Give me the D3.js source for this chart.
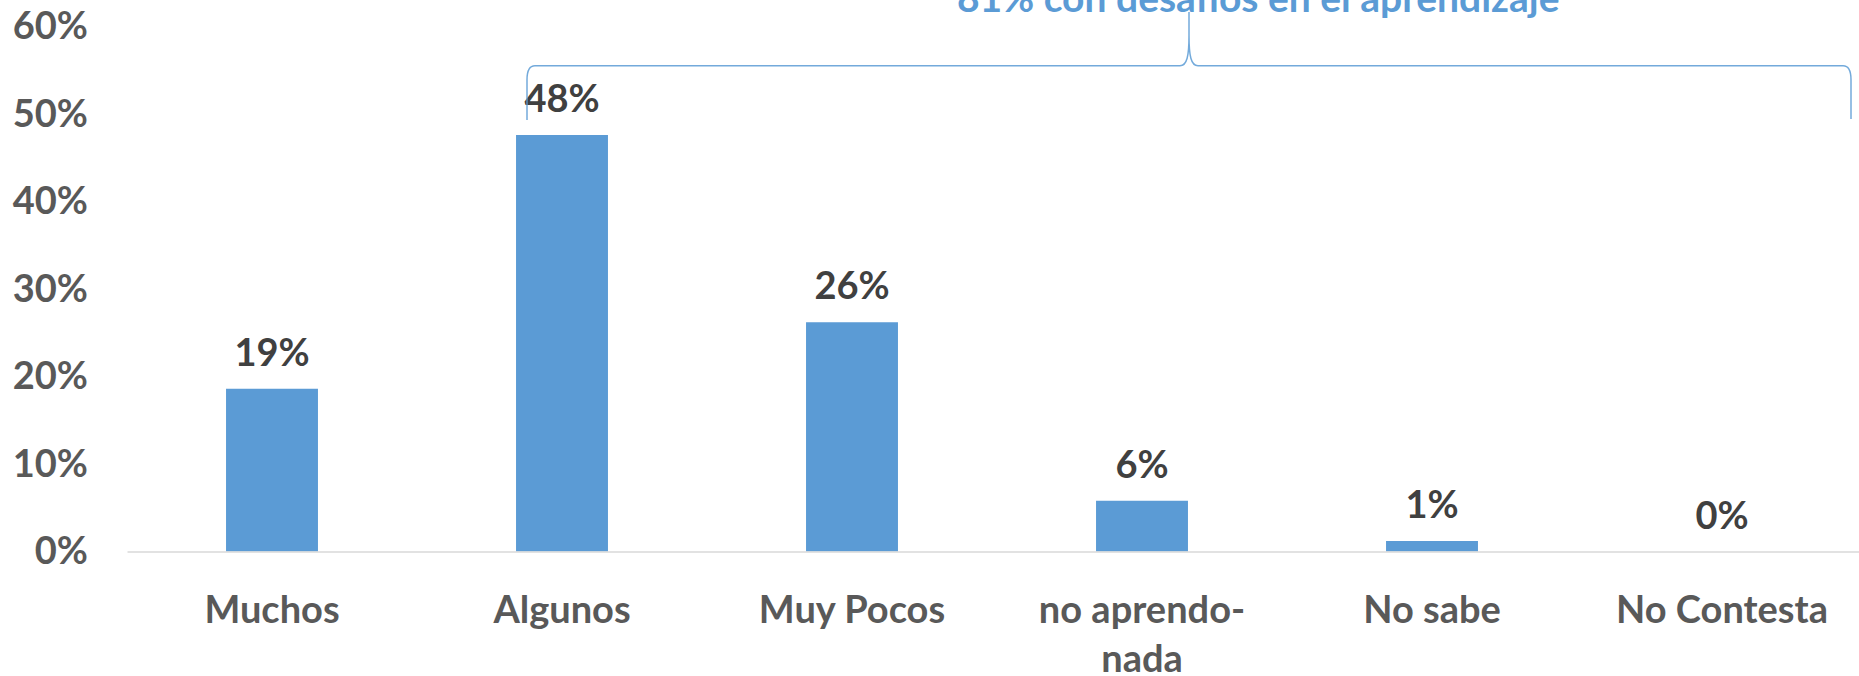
<!DOCTYPE html>
<html>
<head>
<meta charset="utf-8">
<script src="https://cdn.jsdelivr.net/npm/d3@7"></script>
<style>
  html, body { margin: 0; padding: 0; background: #ffffff; }
  svg { display: block; }
  text { font-family: Lato, "Open Sans", "DejaVu Sans", sans-serif; font-weight: 700; }
</style>
</head>
<body>
<script>
// ---- data ----
const categories = ["Muchos", "Algunos", "Muy Pocos", "no aprendo-nada", "No sabe", "No Contesta"];
const values = [0.186, 0.476, 0.262, 0.058, 0.012, 0.0];
const yTicks = [0, 0.1, 0.2, 0.3, 0.4, 0.5, 0.6];
const annotationText = "81% con desafíos en el aprendizaje";

// ---- layout ----
const W = 1859, H = 676;
const svg = d3.select("body").append("svg").attr("width", W).attr("height", H);

const x = d3.scaleBand().domain(categories).range([127, 1867])
  .paddingInner(0.683).paddingOuter(0.3415);
const y = d3.scaleLinear().domain([0, 0.6]).range([551.5, 26.5]);
const pct = d3.format(".0%");

// bars
svg.append("g").selectAll("rect").data(values).join("rect")
  .attr("x", (d, i) => x(categories[i]))
  .attr("width", x.bandwidth())
  .attr("y", d => y(d))
  .attr("height", d => y(0) - y(d))
  .attr("fill", "#5B9BD5");

// x axis
const xAxis = svg.append("g").attr("transform", `translate(0,${y(0)})`)
  .call(d3.axisBottom(x).tickSize(0).tickSizeOuter(0));
xAxis.select(".domain").attr("stroke", "#D9D9D9").attr("stroke-width", 1.5);
xAxis.selectAll(".tick text").each(function(d) {
  const t = d3.select(this);
  t.text(null).attr("y", 0).attr("dy", null)
    .attr("fill", "#595959").style("font-size", "38px");
  const parts = d.split(/(?<=-)/);
  parts.forEach((p, k) => {
    t.append("tspan").attr("x", 0).attr("y", 71.5 + k * 49).text(p);
  });
});

// y axis
const yAxis = svg.append("g").attr("transform", "translate(127,0)")
  .call(d3.axisLeft(y).tickValues(yTicks).tickFormat(pct).tickSize(0).tickPadding(39));
yAxis.select(".domain").remove();
yAxis.selectAll(".tick text").attr("fill", "#595959").style("font-size", "38px");

// data labels
svg.append("g").selectAll("text").data(values).join("text")
  .attr("x", (d, i) => x(categories[i]) + x.bandwidth() / 2)
  .attr("y", d => y(d) - 23)
  .attr("text-anchor", "middle")
  .attr("fill", "#404040")
  .style("font-size", "38px")
  .text(d => pct(d));

// brace annotation
const by = 65.7, bl = 527, br = 1851, bt = (bl + br) / 2, bBottom = 120, bTop = 12;
const bracePath =
  `M${bl},${bBottom} L${bl},${by + 14} C${bl},${by + 5} ${bl + 2},${by} ${bl + 8},${by}` +
  ` L${bt - 9},${by} C${bt - 2},${by} ${bt},${by - 10} ${bt},${by - 30} L${bt},${bTop}` +
  ` M${bt},${by - 30} C${bt},${by - 10} ${bt + 2},${by} ${bt + 9},${by}` +
  ` L${br - 8},${by} C${br - 2},${by} ${br},${by + 5} ${br},${by + 14} L${br},${bBottom - 1}`;
svg.append("path").attr("d", bracePath)
  .attr("fill", "none").attr("stroke", "#5B9BD5").attr("stroke-width", 1.5)
  .attr("stroke-opacity", 0.85);

svg.append("text")
  .attr("x", 957).attr("y", 12)
  .attr("fill", "#5B9BD5")
  .style("font-size", "39px")
  .text(annotationText);
</script>
</body>
</html>
